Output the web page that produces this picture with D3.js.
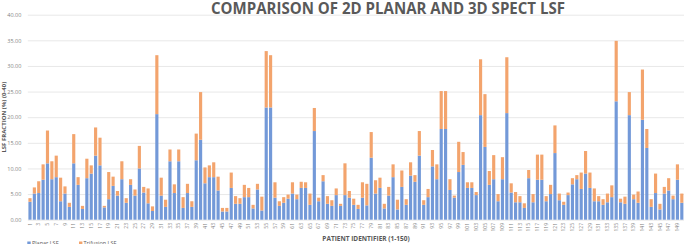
<!DOCTYPE html>
<html>

<head>
    <meta charset="UTF-8">
    <title>Comparison of 2D planar and 3D SPECT LSF</title>
    <script src="https://d3js.org/d3.v7.min.js"></script>
    <style>
        body { margin: 0; background: #fff; }
        text { font-family: "Open Sans", "Liberation Sans", sans-serif; }
    </style>
</head>

<body>
    <div class="canvas"></div>

    <script>
        // patient ids 1..150
        const patients = d3.range(1, 151);

        const planarLSF = [
            3.5, 5.1, 5.2, 7.8, 11.0, 7.9, 8.3, 3.6, 5.1, 2.5,
            11.0, 6.8, 2.1, 8.1, 9.0, 12.5, 10.6, 2.4, 4.0, 6.6,
            4.7, 7.9, 3.3, 6.8, 4.7, 10.0, 5.3, 3.2, 1.7, 20.6,
            4.7, 2.5, 11.4, 5.2, 11.4, 2.3, 5.2, 2.5, 11.6, 15.6,
            7.1, 8.3, 8.3, 5.7, 1.6, 1.6, 6.2, 3.1, 3.1, 4.4,
            4.4, 2.2, 5.9, 1.8, 21.9, 21.9, 4.3, 2.7, 3.3, 4.1,
            5.1, 4.0, 6.2, 6.2, 2.9, 17.3, 3.6, 7.5, 3.1, 2.7,
            4.8, 2.7, 4.8, 4.3, 2.9, 2.1, 4.3, 2.8, 12.1, 5.1,
            6.2, 2.2, 4.7, 8.3, 2.0, 6.4, 2.9, 8.6, 7.4, 12.5,
            2.9, 4.4, 10.4, 7.9, 17.7, 17.7, 5.8, 4.3, 9.3, 10.7,
            6.2, 6.2, 4.8, 20.4, 14.2, 6.8, 7.9, 3.6, 7.9, 20.8,
            5.3, 3.4, 3.4, 2.3, 8.1, 3.4, 7.8, 7.8, 3.6, 5.0,
            13.0, 3.8, 2.9, 4.8, 6.9, 7.9, 6.0, 9.0, 6.2, 3.6,
            3.6, 2.9, 3.4, 4.4, 23.1, 3.4, 3.1, 20.4, 4.0, 3.3,
            19.5, 14.0, 2.5, 5.2, 2.0, 5.1, 5.7, 4.0, 7.8, 3.3
        ];

        const trifusionLSF = [
            0.7, 1.2, 2.3, 3.0, 6.4, 3.5, 4.2, 4.6, 1.4, 0.8,
            5.7, 1.5, 0.6, 3.8, 1.6, 5.5, 5.4, 0.3, 5.3, 1.8,
            0.9, 3.5, 0.9, 1.1, 1.2, 4.4, 1.1, 2.9, 0.9, 11.5,
            3.5, 1.4, 2.3, 1.7, 2.3, 2.1, 1.8, 1.1, 5.2, 9.3,
            3.1, 2.3, 2.9, 2.7, 0.7, 0.7, 3.0, 1.5, 1.1, 2.4,
            1.8, 0.7, 1.1, 2.7, 11.0, 10.2, 3.0, 0.9, 1.1, 0.8,
            2.2, 0.9, 1.2, 1.1, 2.2, 4.5, 0.7, 1.2, 1.5, 1.1,
            1.3, 0.4, 6.2, 1.3, 1.2, 0.8, 3.0, 4.2, 5.0, 2.6,
            2.0, 0.9, 1.7, 2.5, 1.9, 3.2, 1.1, 2.6, 1.3, 4.8,
            0.9, 1.6, 3.2, 2.9, 7.4, 7.4, 2.1, 0.4, 5.9, 2.5,
            1.1, 1.1, 0.6, 10.9, 10.3, 2.7, 4.7, 1.4, 4.3, 10.9,
            1.8, 2.0, 1.2, 0.9, 1.6, 1.6, 4.9, 4.9, 1.0, 1.8,
            5.4, 1.3, 0.6, 0.5, 1.2, 0.8, 3.2, 4.4, 3.0, 2.5,
            1.0, 1.1, 1.7, 2.3, 11.8, 0.7, 1.4, 4.5, 0.9, 2.2,
            9.8, 3.7, 1.5, 3.8, 1.1, 1.3, 2.4, 0.7, 3.0, 1.8
        ];

        const seriesNames = ["Planar LSF", "Trifusion LSF"];
        const yTicks = [0, 5, 10, 15, 20, 25, 30, 35, 40];
        const xTickLabels = patients.filter(d => d % 2 === 1);

        // dimensions
        const width = 685;
        const height = 244;
        const margin = { top: 14.7, right: 1, bottom: 24.3, left: 27.8 };
        const graphWidth = width - margin.left - margin.right;
        const graphHeight = height - margin.top - margin.bottom;

        const colors = { "Planar LSF": "#7399d8", "Trifusion LSF": "#f3a46d" };

        const svg = d3.select(".canvas")
            .append("svg")
            .attr("width", width)
            .attr("height", height);

        const graph = svg.append("g")
            .attr("transform", `translate(${margin.left}, ${margin.top})`);

        const x = d3.scaleBand()
            .domain(patients)
            .range([0, graphWidth])
            .paddingInner(0.28)
            .paddingOuter(0.14);

        const y = d3.scaleLinear()
            .domain([0, 40])
            .range([graphHeight, 0]);

        // gridlines + y labels
        const yAxis = d3.axisLeft(y)
            .tickValues(yTicks)
            .tickFormat(d3.format(".2f"))
            .tickSize(-graphWidth)
            .tickPadding(6.5);

        const yAxisGroup = graph.append("g").call(yAxis);
        yAxisGroup.select(".domain").remove();
        yAxisGroup.selectAll(".tick line")
            .attr("stroke", "#e8e8e8")
            .attr("stroke-width", 1);
        yAxisGroup.selectAll(".tick text")
            .attr("fill", "#7f7f7f")
            .style("font-size", "5.5px");

        // stacked bars
        const rows = patients.map((p, i) => ({
            id: p,
            "Planar LSF": planarLSF[i],
            "Trifusion LSF": trifusionLSF[i]
        }));
        const stacked = d3.stack().keys(seriesNames)(rows);

        graph.selectAll("g.series")
            .data(stacked)
            .enter()
            .append("g")
            .attr("class", "series")
            .attr("fill", d => colors[d.key])
            .selectAll("rect")
            .data(d => d)
            .enter()
            .append("rect")
            .attr("x", d => x(d.data.id))
            .attr("width", x.bandwidth())
            .attr("y", d => y(d[1]))
            .attr("height", d => y(d[0]) - y(d[1]));

        // x axis labels
        const xAxis = d3.axisBottom(x)
            .tickValues(xTickLabels)
            .tickSize(0);

        const xAxisGroup = graph.append("g")
            .attr("transform", `translate(0, ${graphHeight})`)
            .call(xAxis);
        xAxisGroup.select(".domain").remove();
        xAxisGroup.selectAll(".tick text")
            .attr("transform", "rotate(-90)")
            .attr("text-anchor", "end")
            .attr("x", -3.3)
            .attr("y", 0)
            .attr("dy", "0.35em")
            .attr("fill", "#7f7f7f")
            .style("font-size", "5px");

        // title
        svg.append("text")
            .attr("x", 388)
            .attr("y", 14)
            .attr("text-anchor", "middle")
            .attr("textLength", 354)
            .attr("lengthAdjust", "spacingAndGlyphs")
            .attr("fill", "#595959")
            .style("font-size", "15.5px")
            .style("font-weight", "bold")
            .text("COMPARISON OF 2D PLANAR AND 3D SPECT LSF");

        // axis titles
        svg.append("text")
            .attr("transform", `translate(6, ${margin.top + graphHeight / 2}) rotate(-90)`)
            .attr("text-anchor", "middle")
            .attr("fill", "#595959")
            .style("font-size", "6px")
            .style("font-weight", "bold")
            .text("LSF FRACTION (%) (0-40)");

        svg.append("text")
            .attr("x", 366)
            .attr("y", 241)
            .attr("text-anchor", "middle")
            .attr("fill", "#595959")
            .style("font-size", "6.5px")
            .style("font-weight", "bold")
            .text("PATIENT IDENTIFIER (1-150)");

        // legend
        const legend = svg.append("g");
        const legendX = [27.3, 79];
        seriesNames.forEach((name, i) => {
            legend.append("rect")
                .attr("x", legendX[i])
                .attr("y", 241.5)
                .attr("width", 3.4)
                .attr("height", 3.4)
                .attr("fill", colors[name]);
            legend.append("text")
                .attr("x", legendX[i] + 4.6)
                .attr("y", 245)
                .attr("fill", "#595959")
                .style("font-size", "5.5px")
                .text(name);
        });
    </script>
</body>

</html>
